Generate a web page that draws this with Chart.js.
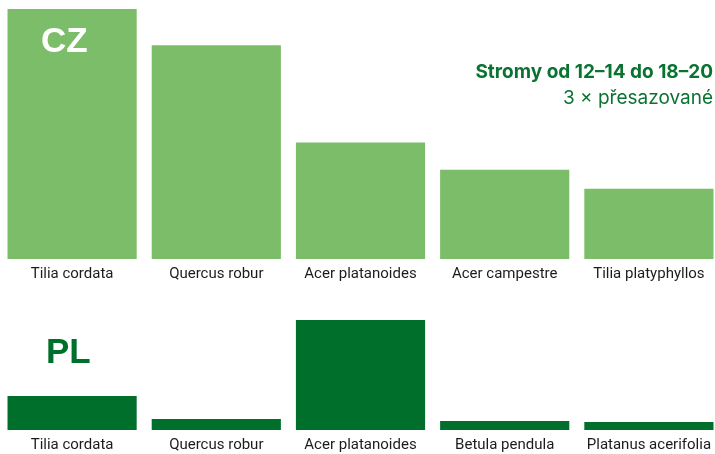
<!DOCTYPE html>
<html>
<head>
<meta charset="utf-8">
<script src="https://cdn.jsdelivr.net/npm/chart.js@4.4.1/dist/chart.umd.min.js"></script>
<style>
  html, body { margin: 0; padding: 0; background: #fff; overflow: hidden; }
  #wrap { position: relative; width: 721px; height: 454px; }
  #topBox { position: absolute; left: 0; top: 0; width: 721px; height: 292px; }
  #botBox { position: absolute; left: 0; top: 295px; width: 721px; height: 180px; }
  .tag { position: absolute; font-family: "Liberation Sans", Arial, sans-serif; font-weight: bold; font-size: 35px; line-height: 1; }
  #cz { left: 41px; top: 22px; color: #fff; }
  #pl { left: 46px; top: 333px; color: #006f2c; }
  #title { position: absolute; right: 8px; top: 59px; text-align: right; color: #0b7332; font-family: Inter, "Noto Sans", sans-serif; font-size: 19px; line-height: 26px; }
  #title b { font-weight: 700; }
</style>
</head>
<body>
<div id="wrap">
  <div id="topBox"><canvas id="topChart"></canvas></div>
  <div id="botBox"><canvas id="botChart"></canvas></div>
  <div class="tag" id="cz">CZ</div>
  <div class="tag" id="pl">PL</div>
  <div id="title"><b>Stromy od 12–14 do 18–20</b><br>3 × přesazované</div>
</div>
<script>
// Data (relative heights)
const czLabels = ['Tilia cordata', 'Quercus robur', 'Acer platanoides', 'Acer campestre', 'Tilia platyphyllos'];
const czValues = [249, 213, 116, 89, 70];
const plLabels = ['Tilia cordata', 'Quercus robur', 'Acer platanoides', 'Betula pendula', 'Platanus acerifolia'];
const plValues = [34, 11, 110, 9, 8];

const LIGHT = '#7bbd69';
const DARK = '#006f2c';

function makeChart(el, labels, values, color, yMax, pad) {
    return new Chart(el.getContext('2d'), {
        type: 'bar',
        data: { labels, datasets: [{ data: values, backgroundColor: color, borderWidth: 0, categoryPercentage: 1, barPercentage: 129 / 144 }] },
        options: {
            responsive: true,
            maintainAspectRatio: false,
            animation: false,
            layout: { padding: pad },
            plugins: { legend: { display: false }, tooltip: { enabled: false } },
            scales: {
                x: {
                    grid: { display: false, drawTicks: false },
                    border: { display: false },
                    ticks: { color: '#1c1c1c', padding: 6, maxRotation: 0, autoSkip: false, font: { family: 'Roboto', size: 15 } }
                },
                y: { display: false, min: 0, max: yMax }
            }
        }
    });
}

makeChart(document.getElementById('topChart'), czLabels, czValues, LIGHT, 249, { top: 9, bottom: 3, left: 0, right: 0 });
makeChart(document.getElementById('botChart'), plLabels, plValues, DARK, 130, { top: 5, bottom: 15, left: 0, right: 0 });
</script>
</body>
</html>
